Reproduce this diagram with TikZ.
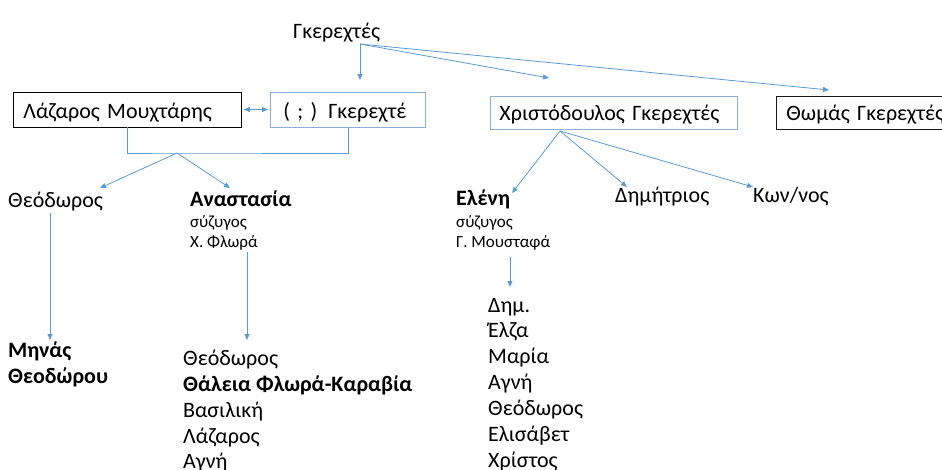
\documentclass[tikz,border=0pt]{standalone}
\usepackage{fontspec}
\setmainfont{Carlito}
\usetikzlibrary{arrows.meta}
\definecolor{arrowblue}{RGB}{91,155,213}
\definecolor{boxblue}{RGB}{140,175,215}
\tikzset{
  conn/.style={draw=arrowblue, line width=0.8pt},
  arr/.style={conn, -{Triangle[length=6pt,width=5pt]}},
  darr/.style={conn, {Triangle[length=6pt,width=5pt]}-{Triangle[length=6pt,width=5pt]}},
  txt/.style={inner sep=0pt, anchor=base west, font=\fontsize{22}{26}\selectfont},
  btxt/.style={txt, font=\fontsize{22}{26}\selectfont\bfseries},
  stxt/.style={inner sep=0pt, anchor=base west, font=\fontsize{17}{20}\selectfont},
  personbox/.style={anchor=west, inner ysep=0pt, text height=19pt, text depth=2pt,
    align=left, font=\fontsize{22}{26}\selectfont, line width=0.8pt},
}
\begin{document}
\begin{tikzpicture}[x=1pt,y=-1pt]
\useasboundingbox (0,0) rectangle (942,469);
% top
\node[txt] (root) at (293,38) {Γκερεχτές};
\coordinate (fork) at (360,44);
\coordinate (tipG) at (360,80);
\coordinate (tipX) at (549,78);
\coordinate (tipT) at (829,90);
% boxes
\node[personbox, draw=black, minimum height=35pt, inner xsep=10pt, text width=208pt] (laz) at (13,109.5) {Λάζαρος Μουχτάρης};
\node[personbox, draw=boxblue, minimum height=35pt, inner xsep=13pt, text width=129pt] (ger) at (270,109.5) {( ; )\ \,Γκερεχτέ};
\node[personbox, draw=black!90, minimum height=33pt, inner xsep=10pt, text width=170pt, text height=18pt, text depth=3pt] (thom) at (776,112.5) {Θωμάς Γκερεχτές};
\node[personbox, draw=boxblue, minimum height=33pt, inner xsep=9pt, text width=229pt, text height=18pt, text depth=3pt] (xri) at (490,112.5) {Χριστόδουλος Γκερεχτές};
\draw[arr] (fork) -- (tipG);
\draw[arr] (fork) -- (tipX);
\draw[arr] (fork) -- (tipT);
\draw[darr] ([xshift=2pt]laz.east) -- ([xshift=-2pt]ger.west);
% bracket
\coordinate (join) at (177,153);
\draw[conn] (laz.south) |- (join) -| (ger.south);
% second row left
\node[txt] (theo) at (8,207) {Θεόδωρος};
\node[btxt] (anas) at (190,206) {Αναστασία};
\node[stxt] (anas1) at (190,227) {σύζυγος};
\node[stxt] (anas2) at (190,247) {Χ. Φλωρά};
\coordinate (tipTheo) at (100,188);
\coordinate (tipAnas) at (230,188);
\draw[arr] (join) -- (tipTheo);
\draw[arr] (join) -- (tipAnas);
% second row right
\node[btxt] (elen) at (456,205) {Ελένη};
\node[stxt] (elen1) at (456,227) {σύζυγος};
\node[stxt] (elen2) at (456,247) {Γ. Μουσταφά};
\node[txt] (dim) at (615,202) {Δημήτριος};
\node[txt] (kon) at (753,202) {Κων/νος};
\coordinate (xfork) at (560,131);
\draw[arr] (xfork) -- (512,193);
\draw[arr] (xfork) -- (627,187);
\draw[arr] (xfork) -- (753,187);
% third row
\node[btxt] (min1) at (8,357) {Μηνάς};
\node[btxt] (min2) at (8,383) {Θεοδώρου};
\draw[arr] (50,213) -- (50,340);
\draw[arr] (247,252) -- (247,340);
\node[txt] (a1) at (183,365) {Θεόδωρος};
\node[btxt] (a2) at (183,391) {Θάλεια Φλωρά-Καραβία};
\node[txt] (a3) at (183,417) {Βασιλική};
\node[txt] (a4) at (183,443) {Λάζαρος};
\node[txt] (a5) at (183,468) {Αγνή};
\draw[arr] (510,257) -- (510,287);
\node[txt] (e1) at (488,312) {Δημ.};
\node[txt] (e2) at (488,337) {Έλζα};
\node[txt] (e3) at (488,363) {Μαρία};
\node[txt] (e4) at (488,389) {Αγνή};
\node[txt] (e5) at (488,415) {Θεόδωρος};
\node[txt] (e6) at (488,441) {Ελισάβετ};
\node[txt] (e7) at (488,467) {Χρίστος};
\end{tikzpicture}
\end{document}
